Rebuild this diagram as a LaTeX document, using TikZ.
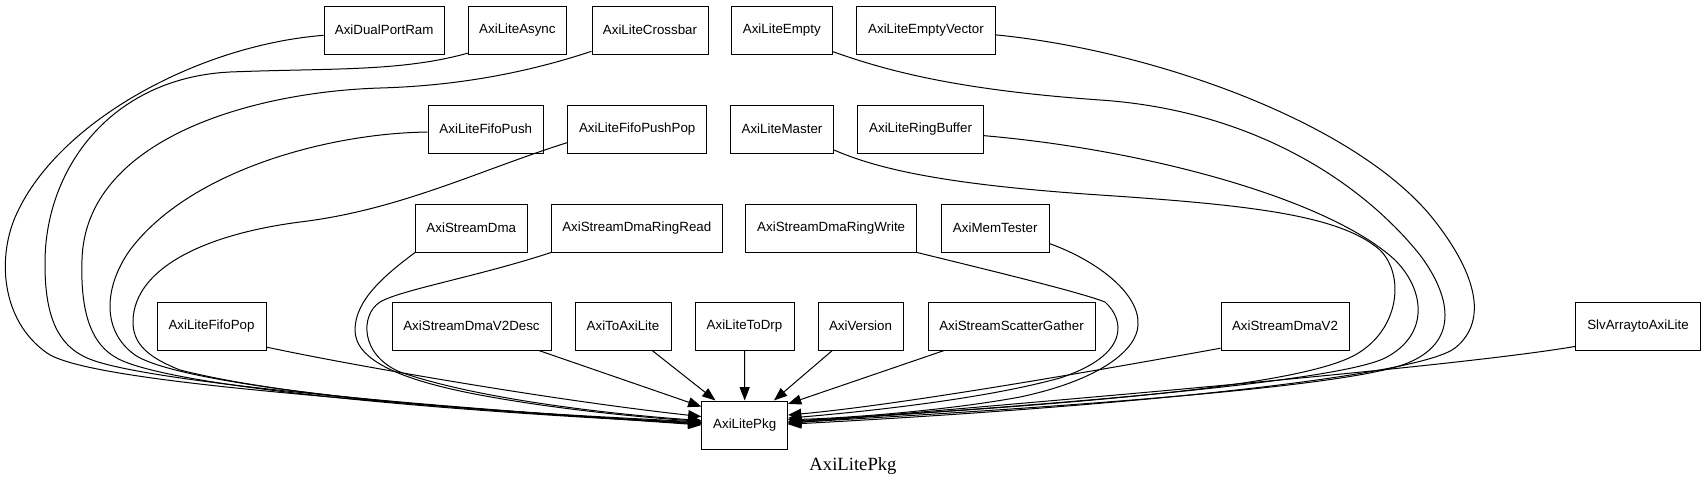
\documentclass[tikz,border=0pt]{standalone}
\usepackage{fontspec}
\newfontfamily\helv{Liberation Sans}
\newfontfamily\tms{Liberation Serif}
\usetikzlibrary{arrows.meta}
\begin{document}
\begin{tikzpicture}[x=0.75pt,y=-0.75pt,
  bx/.style={draw, line width=0.75pt, rectangle, inner sep=0pt, minimum height=36pt,
    minimum width=#1*0.75pt, font=\helv\fontsize{10}{12}\selectfont},
  ed/.style={draw, line width=0.75pt, -{Triangle[length=10pt,width=7.5pt]}}]
\useasboundingbox (0,0) rectangle (1706,487);
% row 1
\node[bx=120]   (dpr)    at (384.2,30) {AxiDualPortRam};
\node[bx=98.3]  (async)  at (517.4,30) {AxiLiteAsync};
\node[bx=116]   (xbar)   at (650,30)   {AxiLiteCrossbar};
\node[bx=100.4] (empty)  at (781.8,30) {AxiLiteEmpty};
\node[bx=139]   (emptyv) at (926,30)   {AxiLiteEmptyVector};
% row 2
\node[bx=115.2] (fpush)  at (485.8,129) {AxiLiteFifoPush};
\node[bx=138.7] (fpp)    at (637.2,129) {AxiLiteFifoPushPop};
\node[bx=103]   (master) at (782,129)   {AxiLiteMaster};
\node[bx=125.8] (ring)   at (920.6,129) {AxiLiteRingBuffer};
% row 3
\node[bx=111.6] (sdma)   at (471.3,228) {AxiStreamDma};
\node[bx=170.7] (rread)  at (636.8,228) {AxiStreamDmaRingRead};
\node[bx=170.8] (rwrite) at (831.2,228) {AxiStreamDmaRingWrite};
\node[bx=108.3] (memt)   at (995.2,228) {AxiMemTester};
% row 4
\node[bx=109]   (fpop)   at (211.5,326) {AxiLiteFifoPop};
\node[bx=159]   (v2desc) at (471.5,326) {AxiStreamDmaV2Desc};
\node[bx=96]    (a2al)   at (623,326)   {AxiToAxiLite};
\node[bx=99]    (todrp)  at (744.5,326) {AxiLiteToDrp};
\node[bx=85]    (ver)    at (860.5,326) {AxiVersion};
\node[bx=167]   (sg)     at (1011.5,326) {AxiStreamScatterGather};
\node[bx=128]   (v2)     at (1285,326)  {AxiStreamDmaV2};
\node[bx=124.6] (slv)    at (1638,326)  {SlvArraytoAxiLite};
% target
\node[bx=85.5]  (pkg)    at (744.7,425) {AxiLitePkg};
\node[font=\tms\fontsize{14}{16}\selectfont] (title) at (853,466) {AxiLitePkg};

% left big curves
\path[ed] (dpr.185) .. controls (200,45) and (60,120) .. (17,213)
  .. controls (-3,255) and (0,320) .. (47,353)
  .. controls (87,381) and (350,400) .. (pkg.180);
\path[ed] (async.205) .. controls (400,72) and (330,68) .. (230,72)
  .. controls (110,78) and (44,170) .. (45,265)
  .. controls (45,320) and (60,345) .. (85,357)
  .. controls (130,380) and (400,405) .. (pkg.179);
\path[ed] (xbar.200) .. controls (520,75) and (450,86) .. (380,88)
  .. controls (250,92) and (85,140) .. (82,260)
  .. controls (80,320) and (95,345) .. (115,357)
  .. controls (160,385) and (420,410) .. (pkg.178);
\path[ed] (fpush.183) .. controls (330,133) and (190,170) .. (130,250)
  .. controls (105,285) and (100,330) .. (135,355)
  .. controls (180,385) and (430,410) .. (pkg.177);
\path[ed] (fpp.191) .. controls (480,170) and (400,210) .. (300,222)
  .. controls (200,235) and (135,270) .. (133,320)
  .. controls (132,345) and (150,358) .. (180,370)
  .. controls (300,400) and (500,412) .. (pkg.176);
\path[ed] (sdma.south west) .. controls (385,275) and (355,300) .. (355,330)
  .. controls (355,360) and (400,380) .. (480,395)
  .. controls (560,410) and (650,418) .. (pkg.175);
\path[ed] (rread.south west) .. controls (480,276) and (400,290) .. (380,302)
  .. controls (360,315) and (360,355) .. (400,372)
  .. controls (480,400) and (620,415) .. (pkg.174);
\path[ed] (fpop.-21) .. controls (350,365) and (550,400) .. (pkg.169);
% straight ones
\path[ed] (v2desc.-20) -- (pkg.157);
\path[ed] (a2al.-40) -- (pkg.140);
\path[ed] (todrp.south) -- (pkg.north);
\path[ed] (ver.221) -- (pkg.40);
\path[ed] (sg.200) -- (pkg.26);
% right side
\path[ed] (rwrite.south east) .. controls (980,268) and (1080,292) .. (1105,302)
  .. controls (1125,320) and (1130,355) .. (1060,378)
  .. controls (980,400) and (860,412) .. (pkg.9);
\path[ed] (memt.-16) .. controls (1100,262) and (1140,295) .. (1138,325)
  .. controls (1137,350) and (1100,380) .. (1020,397)
  .. controls (950,410) and (850,418) .. (pkg.7);
\path[ed] (v2.199) .. controls (1100,370) and (900,405) .. (pkg.13);
\path[ed] (slv.198) .. controls (1450,368) and (1000,405) .. (pkg.2);
% right big curves
\path[ed] (emptyv.-4) .. controls (1150,50) and (1350,120) .. (1430,215)
  .. controls (1475,270) and (1490,320) .. (1455,348)
  .. controls (1420,375) and (1150,405) .. (pkg.1);
\path[ed] (empty.-23) .. controls (890,72) and (960,90) .. (1100,100)
  .. controls (1250,110) and (1360,180) .. (1420,255)
  .. controls (1450,295) and (1460,340) .. (1410,362)
  .. controls (1360,385) and (1100,405) .. (pkg.3);
\path[ed] (ring.-6) .. controls (1150,150) and (1330,200) .. (1395,260)
  .. controls (1425,290) and (1430,335) .. (1385,358)
  .. controls (1340,380) and (1100,402) .. (pkg.4);
\path[ed] (master.-22) .. controls (880,170) and (950,185) .. (1100,195)
  .. controls (1250,205) and (1340,215) .. (1380,250)
  .. controls (1405,275) and (1400,330) .. (1355,355)
  .. controls (1300,385) and (1100,403) .. (pkg.5);
\end{tikzpicture}
\end{document}
